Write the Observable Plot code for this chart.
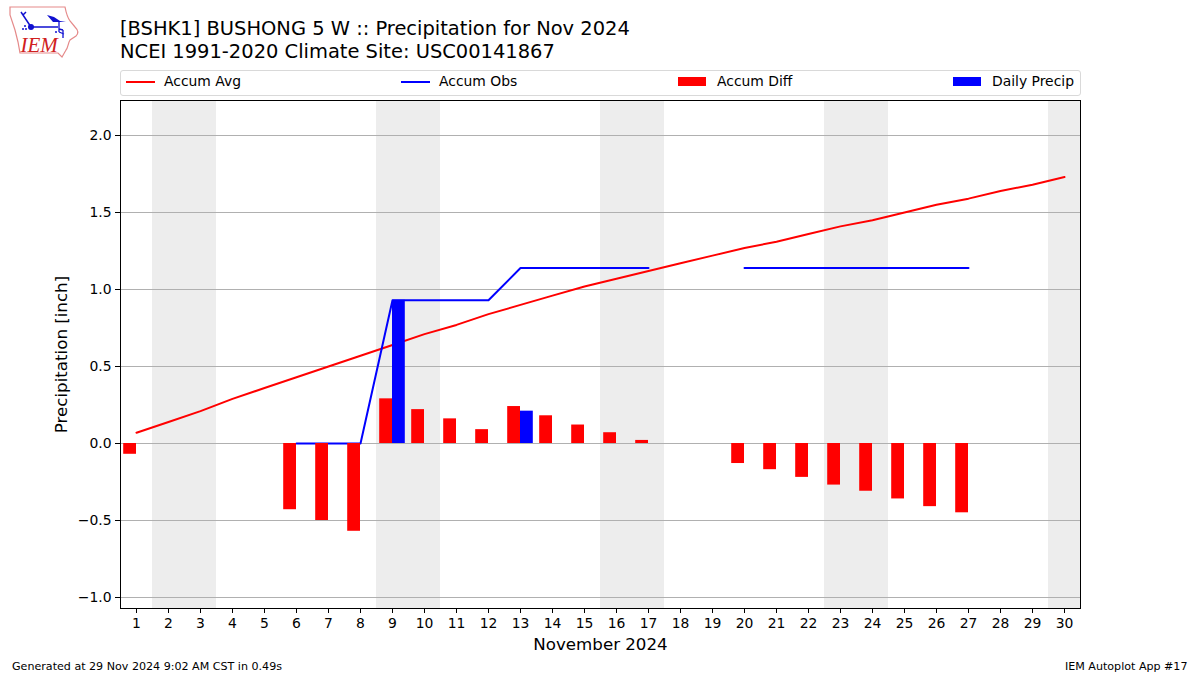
<!DOCTYPE html>
<html><head><meta charset="utf-8">
<script src="https://cdn.jsdelivr.net/npm/d3@7"></script>
<script src="https://cdn.jsdelivr.net/npm/@observablehq/plot@0.6"></script>
<style>
html,body{margin:0;padding:0;background:#fff;overflow:hidden}
body{width:1200px;height:675px;position:relative;font-family:"DejaVu Sans",sans-serif;color:#000}
#title{position:absolute;left:120px;top:18px;font-size:19.47px;line-height:22.5px;white-space:pre}
#legend{position:absolute;left:120px;top:70px;width:959px;height:24px;border:1px solid #d9d9d9;border-radius:3px;box-sizing:content-box;font-size:13.9px}
#legend span{position:absolute;top:2px;white-space:pre}
#legend i{position:absolute;display:block}
#chart{position:absolute;left:0;top:96px}
#chart svg{display:block}
#foot1,#foot2{position:absolute;top:660px;font-size:11.1px;white-space:pre}
#foot1{left:12px}#foot2{right:12.5px}
#logo{position:absolute;left:0;top:0}
g[aria-label="y-axis label"],g[aria-label="x-axis label"]{font-size:16.67px}
</style></head>
<body>
<svg id="logo" width="90" height="62" viewBox="0 0 90 62">
<path d="M10,7 L65,7 C66,12 67,17 70,21 L75,27 C78,30 79,33 76,36 L70,40 C68,43 68,48 66,50 L62,57 L58,53 L20,53 L18,42 L15,30 L10,15 Z" fill="none" stroke="#e58a8a" stroke-width="1.2"/>
<g stroke="#1010d0" fill="#1010d0">
<path d="M31,27 L58,27 M31,27 L23,15 L21,12 M23,15 L26,12" stroke-width="1.5" fill="none"/>
<path d="M47,15 L54,17 L60,21 L66,21 L60,22 L53,22 Z" stroke="none"/>
<path d="M59,21 L59,32 M59,29 L63,30 M63,30 L63,38 M59,32 L64,34" stroke-width="1.3" fill="none"/>
<circle cx="31" cy="27" r="3" stroke="none"/>
<circle cx="26" cy="29" r="1" stroke="none"/><circle cx="23" cy="29" r="1" stroke="none"/><circle cx="25" cy="26" r="1" stroke="none"/><circle cx="56" cy="32" r="1" stroke="none"/>
</g>
<text x="20.5" y="52" font-family="Liberation Serif" font-style="italic" font-size="21" fill="#d02020">IEM</text>
</svg>
<div id="title">[BSHK1] BUSHONG 5 W :: Precipitation for Nov 2024
NCEI 1991-2020 Climate Site: USC00141867</div>
<div id="legend">
<i style="left:5px;top:10px;width:29px;height:2px;background:#f00"></i><span style="left:43px">Accum Avg</span>
<i style="left:280px;top:10px;width:29px;height:2px;background:#00f"></i><span style="left:318px">Accum Obs</span>
<i style="left:557px;top:6px;width:28px;height:9px;background:#f00"></i><span style="left:596px">Accum Diff</span>
<i style="left:832px;top:6px;width:28px;height:9px;background:#00f"></i><span style="left:871px">Daily Precip</span>
</div>
<div id="chart"></div>
<div id="foot1">Generated at 29 Nov 2024 9:02 AM CST in 0.49s</div>
<div id="foot2">IEM Autoplot App #17</div>
<script>
const days = d3.range(1, 31);
const accumAvg = [0.07,0.14,0.21,0.29,0.36,0.43,0.50,0.57,0.64,0.71,0.77,0.84,0.90,0.96,1.02,1.07,1.12,1.17,1.22,1.27,1.31,1.36,1.41,1.45,1.50,1.55,1.59,1.64,1.68,1.73];
const accumObs = [null,null,null,null,null,0,0,0,0.93,0.93,0.93,0.93,1.14,1.14,1.14,1.14,1.14,null,null,1.14,1.14,1.14,1.14,1.14,1.14,1.14,1.14,null,null,null];
const accumDiff = [-0.07,null,null,null,null,-0.43,-0.50,-0.57,0.29,0.22,0.16,0.09,0.24,0.18,0.12,0.07,0.02,null,null,-0.13,-0.17,-0.22,-0.27,-0.31,-0.36,-0.41,-0.45,null,null,null];
const dailyPrecip = [null,null,null,null,null,0,0,0,0.93,0,0,0,0.21,0,0,0,0,null,null,0,0,0,0,0,0,0,0,null,null,null];
const weekendStart = [1.5,8.5,15.5,22.5,29.5];
const weekendEnd = [3.5,10.5,17.5,24.5,30.5];
const yTicks = [-1,-0.5,0,0.5,1,1.5,2];
const yMin = -1.0714, yMax = 2.2273;
const barWidth = 0.4;

const rows = days.map((d,i)=>({day:d,avg:accumAvg[i],obs:accumObs[i],diff:accumDiff[i],daily:dailyPrecip[i]}));
const weekends = weekendStart.map((s,i)=>({s,e:weekendEnd[i]}));

const plot = Plot.plot({
  width:1200, height:558,
  marginTop:4, marginBottom:46, marginLeft:120, marginRight:120,
  style:{fontFamily:'"DejaVu Sans",sans-serif',fontSize:"13.9px",background:"#fff",color:"#000"},
  x:{type:"linear",domain:[0.5,30.5]},
  y:{type:"linear",domain:[yMin,yMax]},
  marks:[
    Plot.rectY(weekends,{x1:"s",x2:"e",y1:yMin,y2:yMax,fill:"#ededed"}),
    Plot.gridY(yTicks,{stroke:"#b0b0b0",strokeOpacity:1,strokeWidth:1}),
    Plot.line(rows,{x:"day",y:"avg",stroke:"#f00",strokeWidth:2,curve:"linear"}),
    Plot.line(rows,{x:"day",y:"obs",stroke:"#00f",strokeWidth:2,curve:"linear"}),
    Plot.rect(rows.filter(r=>r.diff!=null),{x1:r=>r.day-barWidth,x2:"day",y1:0,y2:"diff",fill:"#f00"}),
    Plot.rect(rows.filter(r=>r.daily>0),{x1:"day",x2:r=>r.day+barWidth,y1:0,y2:"daily",fill:"#00f"}),
    Plot.axisY(yTicks,{label:"Precipitation [inch]",labelAnchor:"center",labelArrow:"none",labelOffset:65,
      tickSize:5,tickPadding:4,tickFormat:d=>d.toFixed(1).replace("-","\u2212"),stroke:"#000",fill:"#000"}),
    Plot.axisX(days,{label:"November 2024",labelAnchor:"center",labelArrow:"none",labelOffset:41,
      tickSize:5,tickPadding:5,tickFormat:d=>String(d),stroke:"#000",fill:"#000"}),
    Plot.frame({stroke:"#000",strokeWidth:1})
  ]
});
document.getElementById("chart").appendChild(plot);
</script>
</body></html>
